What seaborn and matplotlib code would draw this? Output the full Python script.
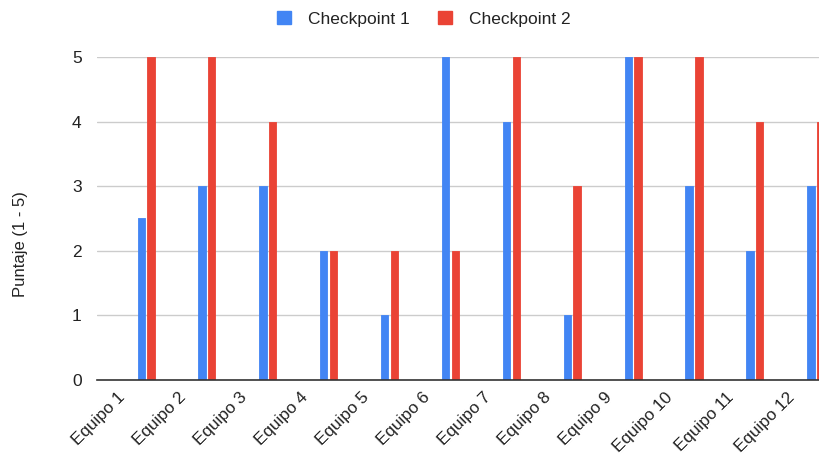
import numpy as np
import pandas as pd
import matplotlib
matplotlib.use("Agg")
import matplotlib.pyplot as plt
import seaborn as sns

equipos = [f"Equipo {i}" for i in range(1, 13)]
checkpoint_1 = [2.5, 3, 3, 2, 1, 5, 4, 1, 5, 3, 2, 3]
checkpoint_2 = [5, 5, 4, 2, 2, 2, 5, 3, 5, 5, 4, 4]
series_names = ["Checkpoint 1", "Checkpoint 2"]
y_ticks = [0, 1, 2, 3, 4, 5]

df = pd.DataFrame({
    "Equipo": equipos * 2,
    "Serie": [series_names[0]] * len(equipos) + [series_names[1]] * len(equipos),
    "Puntaje": checkpoint_1 + checkpoint_2,
})

sns.set_theme(style="white")
plt.rcParams["font.family"] = ["Liberation Sans", "DejaVu Sans"]

W, H = 820, 458
fig = plt.figure(figsize=(W / 100, H / 100), dpi=100)
left_px, top_px, bottom_px = 97, 57, 380
ax_w = W - left_px
ax = fig.add_axes([left_px / W, 1 - bottom_px / H, ax_w / W, (bottom_px - top_px) / H])

palette = {"Checkpoint 1": "#4285F4", "Checkpoint 2": "#EA4335"}
sns.barplot(data=df, x="Equipo", y="Puntaje", hue="Serie", order=equipos,
            hue_order=series_names, palette=palette, width=0.32, gap=0.25,
            saturation=1, ax=ax, legend=False, zorder=3)

# slightly rounded bar corners
for p in ax.patches:
    p.set_edgecolor(p.get_facecolor())
    p.set_linewidth(0.6)
    p.set_joinstyle("round")

text_color = "#222222"
ax.set_ylim(0, 5)
ax.set_yticks(y_ticks)
ax.set_yticklabels([str(v) for v in y_ticks], fontsize=12.5, color=text_color)
ax.set_xlim(-0.806, 11.07)
ax.set_xticks(np.arange(len(equipos)) - 0.47)
ax.set_xticklabels(equipos, rotation=45, ha="right", rotation_mode="anchor",
                   fontsize=12.3, color=text_color)
ax.tick_params(axis="x", length=0, pad=7)
ax.tick_params(axis="y", length=0, pad=11)
ax.yaxis.grid(True, color="#cccccc", linewidth=1)
ax.set_axisbelow(True)
for s in ["top", "right", "left"]:
    ax.spines[s].set_visible(False)
ax.spines["bottom"].set_color("#333333")
ax.spines["bottom"].set_linewidth(1.2)
ax.spines["bottom"].set_zorder(4)
ax.set_xlabel("")
ax.set_ylabel("Puntaje (1 - 5)", fontsize=12, color=text_color)
ax.yaxis.label.set_verticalalignment("center")
ax.yaxis.set_label_coords((21 - left_px) / ax_w, (bottom_px - 244) / (bottom_px - top_px))

handles = [plt.Rectangle((0, 0), 1, 1, color=palette[n]) for n in series_names]
fig.legend(handles, series_names, loc="center", bbox_to_anchor=(424 / W, 1 - 19 / H),
           ncol=2, frameon=False, fontsize=12.5, handlelength=0.8, handleheight=0.8,
           columnspacing=1.6, handletextpad=1.0, labelcolor=text_color)

fig.savefig("out.png", dpi=100)
